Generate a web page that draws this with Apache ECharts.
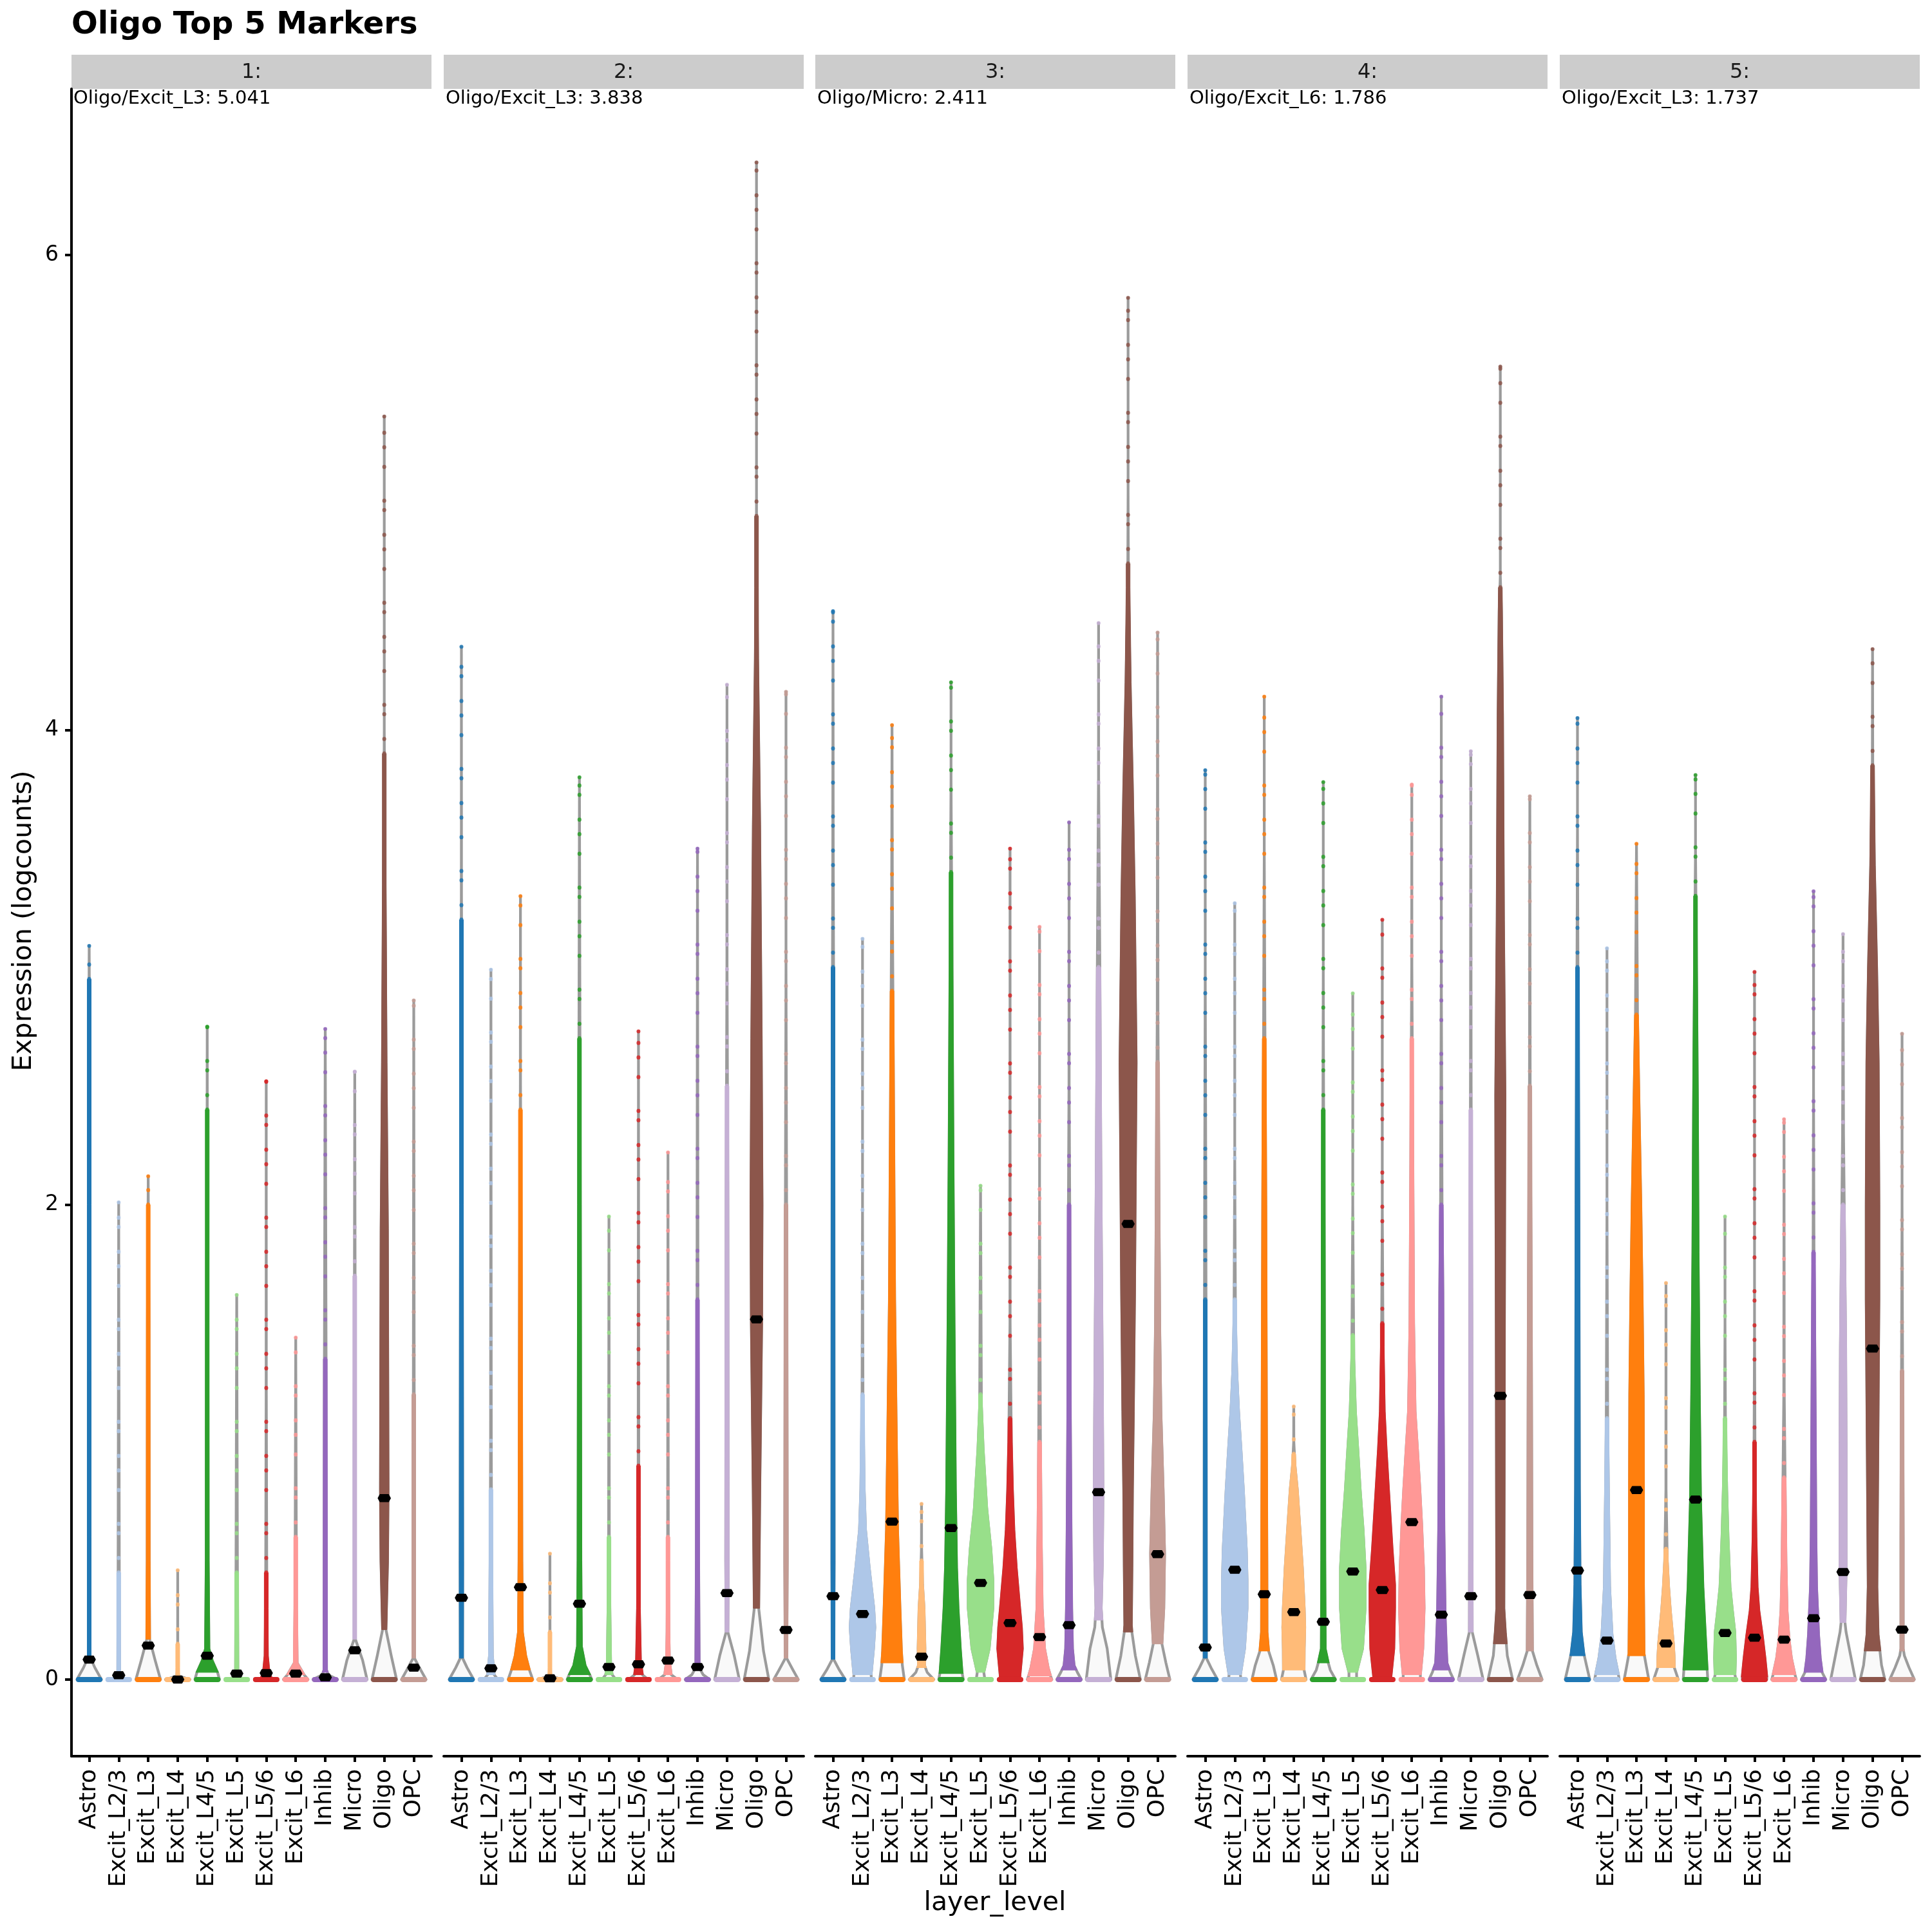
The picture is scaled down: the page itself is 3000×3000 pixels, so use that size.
<!DOCTYPE html>
<html><head><meta charset="utf-8">
<script src="https://cdn.jsdelivr.net/npm/echarts@6/dist/echarts.min.js"></script>
<style>html,body{margin:0;padding:0;background:#fff}#c{width:3000px;height:3000px}</style>
</head><body><div id="c"></div>
<script>
const categories = ['Astro','Excit_L2/3','Excit_L3','Excit_L4','Excit_L4/5','Excit_L5','Excit_L5/6','Excit_L6','Inhib','Micro','Oligo','OPC'];
const colors = ['#1F77B4','#AEC7E8','#FF7F0E','#FFBB78','#2CA02C','#98DF8A','#D62728','#FF9896','#9467BD','#C5B0D5','#8C564B','#C49C94'];
const panelLabels = ['1:','2:','3:','4:','5:'];
const panelNotes = ['Oligo/Excit_L3: 5.041','Oligo/Excit_L3: 3.838','Oligo/Micro: 2.411','Oligo/Excit_L6: 1.786','Oligo/Excit_L3: 1.737'];
const yTicks = [0, 2, 4, 6];

// ---- panel 1 ----
const max1 = [3.09, 2.01, 2.12, 0.46, 2.75, 1.62, 2.52, 1.44, 2.74, 2.56, 5.32, 2.86];
const med1 = [0.084, 0.018, 0.143, 0.0, 0.10, 0.025, 0.027, 0.025, 0.009, 0.123, 0.764, 0.05];
const start1 = [0.1, 0.03, 0.17, 0.015, 0.03, 0.03, 0.01, 0.02, 0.03, 0.17, 0.21, 0.09];
const top1 = [2.95, 0.45, 2.0, 0.15, 2.4, 0.45, 0.45, 0.6, 1.35, 1.7, 3.9, 1.2];
const shape1 = [
  [[0,1],[0.05,0.5],[0.1,0.1],[0.6,0.14],[2,0.12],[3,0.08]],
  [[0,0.35],[0.03,0.14],[0.4,0.12],[2,0.04]],
  [[0,1],[0.08,0.6],[0.17,0.18],[0.5,0.15],[1.5,0.13],[2.1,0.06]],
  [[0,1],[0.015,0.15],[0.05,0.08],[0.45,0.02]],
  [[0,1],[0.03,0.85],[0.08,0.45],[0.13,0.2],[0.5,0.15],[1.5,0.12],[2.4,0.08],[2.75,0.02]],
  [[0,0.5],[0.03,0.16],[0.4,0.13],[1.62,0.02]],
  [[0,0.5],[0.03,0.28],[0.1,0.16],[0.3,0.12],[1.2,0.08],[2.52,0.02]],
  [[0,1],[0.02,0.7],[0.07,0.18],[0.3,0.13],[1.44,0.02]],
  [[0,1],[0.02,0.3],[0.04,0.17],[1.3,0.14],[2.74,0.02]],
  [[0,1],[0.08,0.67],[0.17,0.12],[1,0.12],[2.56,0.02]],
  [[0,1],[0.1,0.6],[0.21,0.2],[0.5,0.32],[0.8,0.36],[1.9,0.31],[2.6,0.21],[3.35,0.13],[4,0.07],[5.32,0.01]],
  [[0,1],[0.04,0.6],[0.09,0.12],[1,0.11],[2.86,0.02]]
];

// ---- panel 2 ----
const max2 = [4.35, 2.99, 3.30, 0.53, 3.80, 1.95, 2.73, 2.22, 3.50, 4.19, 6.39, 4.16];
const med2 = [0.344, 0.047, 0.389, 0.005, 0.319, 0.053, 0.064, 0.08, 0.053, 0.364, 1.517, 0.209];
const start2 = [0.09, 0.02, 0.04, 0.015, 0.02, 0.02, 0.02, 0.02, 0.04, 0.2, 0.3, 0.09];
const top2 = [3.2, 0.8, 2.4, 0.2, 2.7, 0.6, 0.9, 0.6, 1.6, 2.5, 4.9, 2.0];
const shape2 = [
  [[0,1],[0.05,0.5],[0.09,0.16],[0.5,0.17],[2,0.14],[3.3,0.08],[4.35,0.01]],
  [[0,0.6],[0.02,0.32],[0.1,0.18],[0.5,0.13],[1,0.1],[2.99,0.02]],
  [[0,1],[0.04,0.75],[0.1,0.47],[0.2,0.22],[0.5,0.18],[1.5,0.15],[2.5,0.08],[3.3,0.02]],
  [[0,1],[0.015,0.15],[0.05,0.08],[0.53,0.02]],
  [[0,1],[0.02,0.85],[0.06,0.5],[0.14,0.22],[0.5,0.18],[2,0.14],[3,0.1],[3.8,0.02]],
  [[0,0.6],[0.02,0.32],[0.06,0.2],[0.3,0.14],[0.6,0.1],[1.95,0.02]],
  [[0,0.8],[0.02,0.37],[0.08,0.22],[0.3,0.14],[0.6,0.1],[2.73,0.02]],
  [[0,0.8],[0.02,0.32],[0.08,0.18],[0.2,0.14],[0.5,0.1],[2.22,0.02]],
  [[0,1],[0.02,0.5],[0.05,0.2],[0.5,0.16],[1.5,0.11],[3.5,0.02]],
  [[0,1],[0.1,0.62],[0.2,0.14],[0.5,0.17],[2,0.14],[3,0.08],[4.19,0.02]],
  [[0,1],[0.12,0.6],[0.3,0.24],[0.8,0.32],[1.5,0.46],[2,0.49],[2.7,0.43],[3.6,0.31],[4.3,0.16],[4.6,0.09],[5,0.05],[6.39,0.01]],
  [[0,1],[0.04,0.6],[0.09,0.12],[0.5,0.17],[2,0.12],[3,0.07],[4.16,0.02]]
];

// ---- panel 3 ----
const max3 = [4.50, 3.12, 4.02, 0.74, 4.20, 2.08, 3.50, 3.17, 3.61, 4.45, 5.82, 4.41];
const med3 = [0.351, 0.276, 0.665, 0.096, 0.638, 0.407, 0.238, 0.179, 0.229, 0.789, 1.919, 0.528];
const start3 = [0.085, 0.02, 0.07, 0.05, 0.025, 0.03, 0.01, 0.015, 0.04, 0.25, 0.2, 0.15];
const top3 = [3.0, 1.2, 2.9, 0.5, 3.4, 1.2, 1.1, 1.0, 2.0, 3.0, 4.7, 2.6];
const shape3 = [
  [[0,1],[0.04,0.55],[0.085,0.12],[0.5,0.16],[2.5,0.14],[3.5,0.09],[4.5,0.02]],
  [[0,0.75],[0.02,0.72],[0.13,0.9],[0.22,1.0],[0.3,0.92],[0.47,0.58],[0.63,0.3],[0.8,0.2],[1.15,0.11],[2,0.05],[3.12,0.02]],
  [[0,1],[0.06,0.85],[0.12,0.78],[0.3,0.67],[0.63,0.49],[1,0.4],[1.6,0.27],[2.4,0.19],[3.3,0.1],[4.02,0.02]],
  [[0,1],[0.03,0.5],[0.06,0.3],[0.13,0.33],[0.3,0.26],[0.4,0.15],[0.55,0.08],[0.74,0.02]],
  [[0,1],[0.03,0.9],[0.13,0.77],[0.3,0.6],[0.47,0.49],[0.8,0.4],[1.5,0.3],[2.2,0.22],[3,0.15],[3.8,0.07],[4.2,0.02]],
  [[0,0.4],[0.03,0.32],[0.13,0.72],[0.3,1.0],[0.42,1.0],[0.55,0.85],[0.72,0.54],[0.97,0.27],[1.15,0.14],[2.08,0.02]],
  [[0,0.8],[0.02,0.82],[0.13,1.0],[0.22,0.93],[0.3,0.8],[0.47,0.54],[0.63,0.36],[0.8,0.25],[1.0,0.17],[1.5,0.08],[3.5,0.02]],
  [[0,1],[0.015,0.9],[0.05,0.72],[0.13,0.45],[0.3,0.27],[0.63,0.19],[1,0.14],[2,0.07],[3.17,0.02]],
  [[0,1],[0.03,0.7],[0.06,0.45],[0.13,0.33],[0.3,0.27],[0.63,0.22],[1.1,0.17],[1.8,0.14],[2.5,0.08],[3.61,0.02]],
  [[0,1],[0.13,0.72],[0.22,0.36],[0.3,0.27],[0.5,0.36],[0.8,0.4],[1.2,0.36],[1.7,0.3],[2.2,0.24],[3,0.17],[3.8,0.08],[4.45,0.02]],
  [[0,1],[0.1,0.62],[0.2,0.36],[0.23,0.32],[0.47,0.36],[0.8,0.4],[1.13,0.47],[1.63,0.56],[2.13,0.62],[2.6,0.68],[2.85,0.63],[3.3,0.54],[3.75,0.4],[4.2,0.23],[4.6,0.1],[5.0,0.04],[5.82,0.01]],
  [[0,1],[0.07,0.7],[0.15,0.4],[0.3,0.54],[0.53,0.6],[0.8,0.49],[1.13,0.32],[1.5,0.23],[2,0.18],[2.8,0.1],[4.41,0.02]]
];

// ---- panel 4 ----
const max4 = [3.83, 3.27, 4.14, 1.15, 3.78, 2.89, 3.20, 3.77, 4.14, 3.91, 5.53, 3.72];
const med4 = [0.135, 0.462, 0.359, 0.284, 0.243, 0.455, 0.377, 0.663, 0.273, 0.351, 1.195, 0.356];
const start4 = [0.09, 0.02, 0.12, 0.04, 0.07, 0.03, 0.01, 0.02, 0.04, 0.2, 0.15, 0.12];
const top4 = [1.6, 1.6, 2.7, 0.95, 2.4, 1.45, 1.5, 2.7, 2.0, 2.4, 4.6, 2.5];
const shape4 = [
  [[0,1],[0.045,0.55],[0.09,0.16],[1,0.15],[2,0.12],[3,0.07],[3.83,0.02]],
  [[0,0.54],[0.02,0.5],[0.13,0.81],[0.3,1.0],[0.42,1.0],[0.55,0.94],[0.8,0.72],[0.97,0.54],[1.13,0.36],[1.3,0.22],[1.5,0.13],[2.2,0.06],[3.27,0.02]],
  [[0,1],[0.06,0.75],[0.12,0.4],[0.2,0.28],[0.5,0.27],[1,0.24],[2,0.19],[2.8,0.12],[3.5,0.06],[4.14,0.02]],
  [[0,1],[0.04,0.85],[0.13,0.86],[0.22,0.9],[0.3,0.86],[0.47,0.72],[0.63,0.54],[0.8,0.34],[0.9,0.17],[1.0,0.08],[1.15,0.02]],
  [[0,1],[0.04,0.6],[0.07,0.45],[0.13,0.22],[0.5,0.19],[1.5,0.16],[2.4,0.1],[3,0.06],[3.78,0.02]],
  [[0,0.36],[0.03,0.36],[0.13,0.81],[0.3,1.0],[0.47,1.0],[0.63,0.85],[0.8,0.63],[0.97,0.45],[1.13,0.27],[1.35,0.15],[2,0.06],[2.89,0.02]],
  [[0,0.67],[0.01,0.72],[0.13,0.94],[0.3,1.0],[0.4,1.0],[0.55,0.81],[0.8,0.54],[0.97,0.36],[1.13,0.22],[1.4,0.13],[2,0.06],[3.2,0.02]],
  [[0,0.72],[0.02,0.72],[0.13,0.9],[0.3,1.0],[0.47,0.95],[0.66,0.81],[0.8,0.68],[0.97,0.5],[1.13,0.32],[1.5,0.21],[2.2,0.15],[3,0.08],[3.77,0.02]],
  [[0,1],[0.03,0.75],[0.07,0.5],[0.13,0.45],[0.27,0.36],[0.63,0.27],[1.13,0.22],[1.63,0.19],[2,0.13],[3,0.07],[4.14,0.02]],
  [[0,1],[0.1,0.6],[0.2,0.18],[0.5,0.17],[1.5,0.15],[2.5,0.1],[3.91,0.02]],
  [[0,1],[0.1,0.6],[0.2,0.45],[0.3,0.34],[0.8,0.36],[1.5,0.38],[2.46,0.42],[3.2,0.31],[4.06,0.24],[4.5,0.16],[4.65,0.07],[5.53,0.01]],
  [[0,1],[0.06,0.6],[0.12,0.27],[0.5,0.23],[1.5,0.19],[2.5,0.1],[3.72,0.02]]
];

// ---- panel 5 ----
const max5 = [4.05, 3.08, 3.52, 1.67, 3.81, 1.95, 2.98, 2.36, 3.32, 3.14, 4.34, 2.72];
const med5 = [0.459, 0.164, 0.798, 0.152, 0.758, 0.196, 0.176, 0.168, 0.258, 0.453, 1.394, 0.21];
const start5 = [0.1, 0.02, 0.1, 0.05, 0.04, 0.02, 0.01, 0.02, 0.03, 0.24, 0.12, 0.12];
const top5 = [3.0, 1.1, 2.8, 0.55, 3.3, 1.1, 1.0, 0.85, 1.8, 2.0, 3.85, 1.3];
const shape5 = [
  [[0,1],[0.06,0.75],[0.11,0.55],[0.2,0.36],[0.4,0.27],[0.8,0.22],[2,0.18],[3,0.11],[3.6,0.05],[4.05,0.02]],
  [[0,1],[0.03,0.9],[0.09,0.68],[0.19,0.45],[0.39,0.27],[0.8,0.18],[1.05,0.13],[2,0.05],[3.08,0.02]],
  [[0,1],[0.06,0.8],[0.11,0.64],[0.4,0.6],[0.8,0.6],[1.2,0.58],[1.6,0.5],[2,0.4],[2.4,0.27],[2.8,0.15],[3.52,0.02]],
  [[0,1],[0.05,0.7],[0.1,0.68],[0.15,0.63],[0.29,0.4],[0.39,0.27],[0.5,0.17],[0.8,0.08],[1.67,0.02]],
  [[0,1],[0.04,0.95],[0.19,0.81],[0.39,0.63],[0.76,0.45],[1.2,0.36],[1.8,0.27],[2.4,0.22],[3,0.15],[3.5,0.07],[3.81,0.02]],
  [[0,0.9],[0.02,0.82],[0.09,0.86],[0.2,0.81],[0.29,0.63],[0.39,0.45],[0.6,0.3],[0.8,0.2],[1.05,0.11],[1.5,0.05],[1.95,0.02]],
  [[0,1],[0.01,1.0],[0.09,0.86],[0.18,0.67],[0.29,0.4],[0.39,0.27],[0.6,0.18],[0.8,0.12],[1.5,0.06],[2.98,0.02]],
  [[0,1],[0.02,0.9],[0.09,0.63],[0.17,0.45],[0.29,0.3],[0.49,0.22],[0.7,0.18],[1.2,0.09],[2.36,0.02]],
  [[0,1],[0.03,0.72],[0.09,0.58],[0.19,0.45],[0.26,0.4],[0.39,0.3],[0.6,0.25],[1,0.21],[1.4,0.17],[1.75,0.11],[2.5,0.05],[3.32,0.02]],
  [[0,1],[0.1,0.65],[0.2,0.3],[0.24,0.22],[0.45,0.3],[1,0.3],[1.4,0.27],[1.8,0.2],[2.3,0.11],[3.14,0.02]],
  [[0,1],[0.06,0.75],[0.12,0.63],[0.19,0.49],[0.39,0.4],[0.8,0.45],[1.2,0.5],[1.6,0.55],[2,0.55],[2.6,0.5],[3,0.38],[3.43,0.21],[3.85,0.09],[4.34,0.01]],
  [[0,1],[0.05,0.6],[0.1,0.25],[0.13,0.16],[0.6,0.16],[1.2,0.12],[2,0.05],[2.72,0.02]]
];

const maxs = [max1, max2, max3, max4, max5];
const meds = [med1, med2, med3, med4, med5];
const starts = [start1, start2, start3, start4, start5];
const tops = [top1, top2, top3, top4, top5];
const shapes = [shape1, shape2, shape3, shape4, shape5];

// ---- layout ----
const FONT = 'DejaVu Sans';
const panelLeft = [111, 689, 1266, 1844, 2422];
const panelW = 559, gridTop = 138, gridH = 2589;
const Y_MIN = -0.323, Y_MAX = 6.70;

function interp(prof, y) {
  if (y <= prof[0][0]) return prof[0][1];
  for (let k = 1; k < prof.length; k++) {
    if (y <= prof[k][0]) {
      const a = prof[k - 1], b = prof[k];
      const t = (y - a[0]) / (b[0] - a[0]);
      return a[1] + t * (b[1] - a[1]);
    }
  }
  return prof[prof.length - 1][1];
}

function renderViolin(p) {
  return function (params, api) {
    const i = api.value(0);
    const mx = maxs[p][i];
    const prof0 = shapes[p][i];
    const prof = prof0[prof0.length - 1][0] < mx ? prof0.concat([[mx, 0]]) : prof0;
    const base = api.coord([i, 0]);
    const cx = base[0];
    const half = api.size([0.45, 0])[0];
    const Y = v => api.coord([i, v])[1];
    const L = [], R = [];
    prof.forEach(q => { const w = Math.max(q[1] * half - 1.5, 0); L.push([cx - w, Y(q[0])]); R.push([cx + w, Y(q[0])]); });
    const outline = L.concat(R.reverse());
    const s = starts[p][i], t = tops[p][i];
    const ys = [s].concat(prof.filter(q => q[0] > s && q[0] < t).map(q => q[0]), [t]);
    const CL = [], CR = [];
    ys.forEach(y => { const w = Math.max(interp(prof, y) * half, 3); CL.push([cx - w, Y(y)]); CR.push([cx + w, Y(y)]); });
    const colPoly = CL.concat(CR.reverse());
    const col = colors[i];
    const my = Y(meds[p][i]);
    return {
      type: 'group',
      children: [
        { type: 'polygon', shape: { points: outline }, style: { fill: '#f9f9f9', stroke: '#9b9b9b', lineWidth: 4.2, lineJoin: 'round' } },
        { type: 'polygon', shape: { points: colPoly }, style: { fill: col, stroke: col, lineWidth: 1 } },
        { type: 'line', shape: { x1: cx, y1: Y(t), x2: cx, y2: Y(mx) }, style: { stroke: col, lineWidth: 6, lineDash: [0.5, 22, 0.5, 38, 0.5, 14, 0.5, 52, 0.5, 30], lineCap: 'round', opacity: 0.85 } },
        { type: 'circle', shape: { cx: cx, cy: Y(mx), r: 3 }, style: { fill: col, opacity: 0.85 } },
        { type: 'line', shape: { x1: cx - half + 4, y1: base[1], x2: cx + half - 4, y2: base[1] }, style: { stroke: col, lineWidth: 8, lineCap: 'round' } },
        { type: 'polygon', shape: { points: [[cx - 9.5, my], [cx - 6.5, my - 5.5], [cx + 6.5, my - 5.5], [cx + 9.5, my], [cx + 6.5, my + 5.5], [cx - 6.5, my + 5.5]] }, style: { fill: '#000', stroke: '#000', lineWidth: 1.5, lineJoin: 'round' } }
      ]
    };
  };
}

const grids = [], xAxes = [], yAxes = [], series = [], graphics = [];
const catIdx = categories.map((c, i) => i);
for (let p = 0; p < 5; p++) {
  grids.push({ left: panelLeft[p], top: gridTop, width: panelW, height: gridH, containLabel: false });
  xAxes.push({
    type: 'value', gridIndex: p, min: -0.6, max: 11.6,
    axisLine: { show: true, onZero: false, lineStyle: { color: '#000', width: 4 } },
    axisTick: { show: true, customValues: catIdx, length: 9, lineStyle: { color: '#000', width: 4 } },
    axisLabel: { show: true, customValues: catIdx, formatter: v => categories[Math.round(v)], rotate: 90, margin: 20, fontSize: 36, color: '#000', fontFamily: FONT },
    splitLine: { show: false }
  });
  yAxes.push({
    type: 'value', gridIndex: p, min: Y_MIN, max: Y_MAX, show: p === 0,
    axisLine: { show: true, onZero: false, lineStyle: { color: '#000', width: 4 } },
    axisTick: { show: true, customValues: yTicks, length: 10, lineStyle: { color: '#000', width: 4 } },
    axisLabel: { show: true, customValues: yTicks, margin: 20, fontSize: 33, color: '#000', fontFamily: FONT },
    splitLine: { show: false }
  });
  series.push({
    type: 'custom', xAxisIndex: p, yAxisIndex: p, clip: false, silent: true,
    renderItem: renderViolin(p),
    encode: { x: 0, y: 1 },
    data: catIdx.map(i => [i, maxs[p][i]])
  });
  graphics.push({ type: 'rect', left: panelLeft[p], top: 85, shape: { width: panelW, height: 53 }, style: { fill: '#cccccc' }, silent: true });
  graphics.push({ type: 'text', x: panelLeft[p] + panelW / 2, y: 113, style: { text: panelLabels[p], fontSize: 32, fontFamily: FONT, fill: '#1a1a1a', align: 'center', verticalAlign: 'middle' } });
  graphics.push({ type: 'text', x: panelLeft[p] + 3, y: 153, style: { text: panelNotes[p], fontSize: 29, fontFamily: FONT, fill: '#000', align: 'left', verticalAlign: 'middle' } });
}
graphics.push({ type: 'text', x: 111, y: 40, style: { text: 'Oligo Top 5 Markers', fontSize: 48, fontWeight: 'bold', fontFamily: FONT, fill: '#000', align: 'left', verticalAlign: 'middle' } });
graphics.push({ type: 'text', x: 37, y: 1430, rotation: Math.PI / 2, style: { text: 'Expression (logcounts)', fontSize: 41, fontFamily: FONT, fill: '#000', align: 'center', verticalAlign: 'middle' } });
graphics.push({ type: 'text', x: 1545, y: 2955, style: { text: 'layer_level', fontSize: 41, fontFamily: FONT, fill: '#000', align: 'center', verticalAlign: 'middle' } });

const chart = echarts.init(document.getElementById('c'), null, { renderer: 'canvas', width: 3000, height: 3000 });
chart.setOption({
  animation: false,
  backgroundColor: '#ffffff',
  grid: grids, xAxis: xAxes, yAxis: yAxes, series: series,
  graphic: { elements: graphics }
});
</script>
</body></html>
